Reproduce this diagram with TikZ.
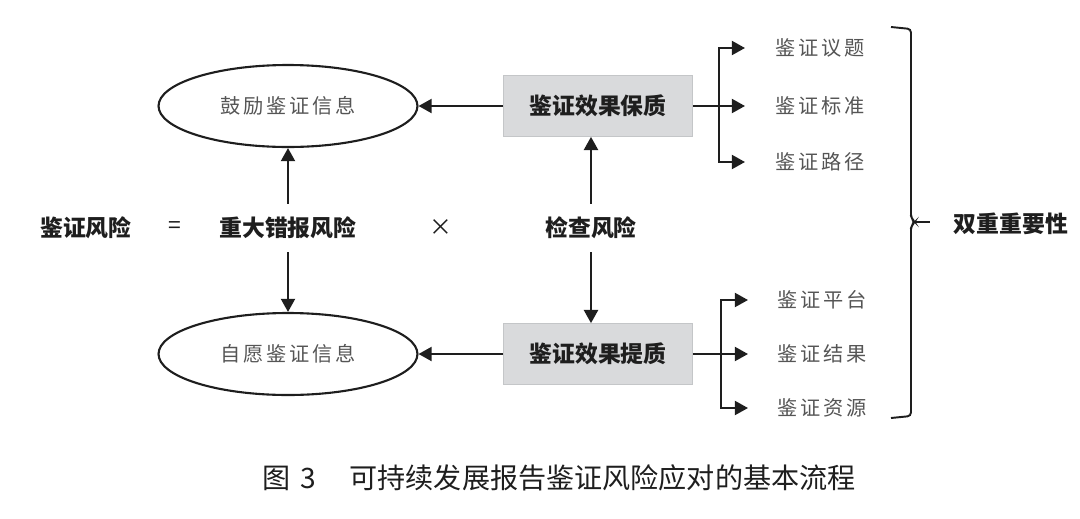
\documentclass[tikz,border=0pt]{standalone}
\usepackage{fontspec}
\setmainfont{Noto Sans CJK SC}
\usepackage{tikz}
\usetikzlibrary{shapes.geometric,arrows.meta,positioning}
\definecolor{boxgray}{HTML}{D9DADC}
\definecolor{boxline}{HTML}{C4C6C8}
\definecolor{txtgray}{HTML}{555555}
\definecolor{ink}{HTML}{1E1E1E}

\begin{document}
\begin{tikzpicture}[x=0.02cm,y=-0.02cm,font=\fontsize{13}{15}\selectfont,
  arr/.style={draw=ink,line width=1.2pt,-{Triangle[length=7.5pt,width=8pt]}},
  ln/.style={draw=ink,line width=1.2pt},
  gr/.style={text=txtgray,inner sep=0pt,font=\fontsize{11.5}{14}\selectfont\addfontfeature{LetterSpace=14}},
  bd/.style={text=ink,font=\fontsize{13}{15}\selectfont\bfseries},
  el/.style={draw=ink,ellipse,line width=1.2pt,minimum width=5.18cm,minimum height=1.64cm,text=txtgray,
    font=\fontsize{11.5}{14}\selectfont\addfontfeature{LetterSpace=14}},
  bx/.style={draw=boxline,fill=boxgray,minimum width=3.78cm,minimum height=1.22cm,text=ink,
    font=\fontsize{13}{15}\selectfont\bfseries}]
\useasboundingbox (0,0) rectangle (1080,518);
% ellipses and boxes
\node[el] (e1) at (288,106) {鼓励鉴证信息};
\node[el] (e2) at (288,354) {自愿鉴证信息};
\node[bx] (bq) at (598,106) {鉴证效果保质};
\node[bx] (bp) at (598,354) {鉴证效果提质};
% formula row
\node[bd] (r0) at (86,228) {鉴证风险};
\node[text=ink] (eq) at (175,228) {=};
\node[bd] (r1) at (288,228) {重大错报风险};
\node[text=ink] (tm) at (441,228) {×};
\node[bd] (r2) at (591,228) {检查风险};
% right labels
\foreach \n/\y/\lab in {t1/48/鉴证议题,t2/106/鉴证标准,t3/162/鉴证路径} \node[gr] (\n) at (820,\y) {\lab};
\foreach \n/\y/\lab in {s1/300/鉴证平台,s2/354/鉴证结果,s3/408/鉴证资源} \node[gr] (\n) at (822,\y) {\lab};
\node[bd] (dz) at (1011,224) {双重重要性};
\coordinate (ja) at (719,106);
\coordinate (jb) at (721,354);
% arrows
\draw[arr] (bq) -- (e1);
\draw[arr] (bp) -- (e2);
\draw[arr,shorten <=4pt] (r1) -- (e1);
\draw[arr,shorten <=4pt] (r1) -- (e2);
\draw[arr,shorten <=4pt] (r2) -- (r2 |- bq.south);
\draw[arr,shorten <=4pt] (r2) -- (r2 |- bp.north);
\draw[ln] (bq.east) -- (ja);
\draw[ln] (bp.east) -- (jb);
\foreach \n in {t1,t2,t3} \draw[arr,shorten >=0.6cm] (ja) |- (\n);
\foreach \n in {s1,s2,s3} \draw[arr,shorten >=0.58cm] (jb) |- (\n);
% brace
\draw[ln,line width=1.1pt,rounded corners=2pt] (891,27) -- (911,29) -- (911,218) -- (915,222) -- (911,226) -- (911,416) -- (891,418);
\draw[ln,line width=1.1pt] (914,222) -- (930,222);
% caption
\node[text=ink,font=\fontsize{16}{18}\selectfont] (cap) at (559,478) {图\hspace{0.35em}3\hspace{1.2em}可持续发展报告鉴证风险应对的基本流程};
\end{tikzpicture}
\end{document}
